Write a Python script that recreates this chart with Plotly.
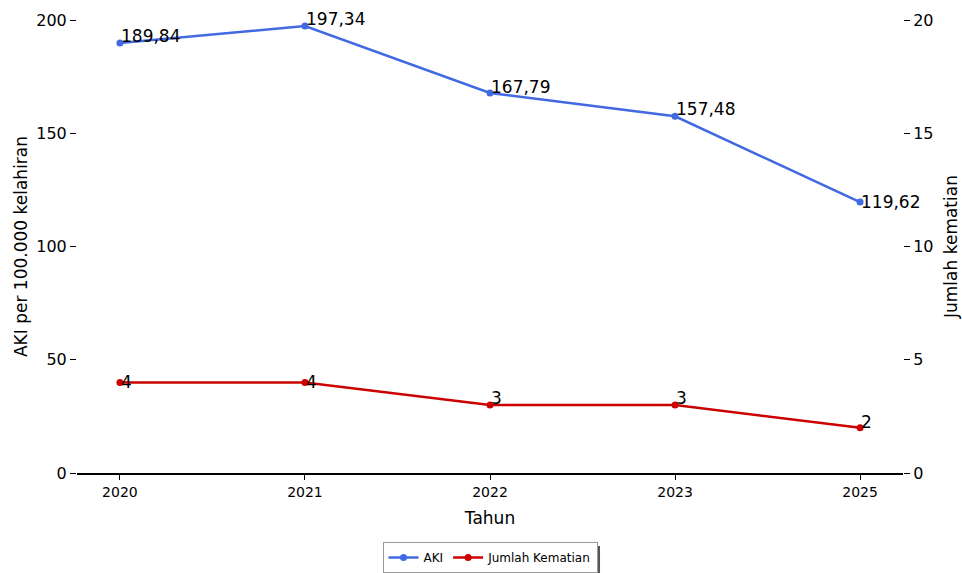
import plotly.graph_objects as go

years = ["2020", "2021", "2022", "2023", "2025"]
aki = [189.84, 197.34, 167.79, 157.48, 119.62]
aki_labels = ["189,84", "197,34", "167,79", "157,48", "119,62"]
deaths = [4, 4, 3, 3, 2]
death_labels = ["4", "4", "3", "3", "2"]
aki_label_lift = [7, 7, 6, 7, 0]
death_label_lift = [0, 0, 7, 7, 6]

FONT = "DejaVu Sans, Verdana, sans-serif"
BLUE = "#4169E1"
RED = "#CC0000"

fig = go.Figure()
fig.add_trace(go.Scatter(
    x=years, y=aki, name="AKI", mode="lines+markers",
    line=dict(color=BLUE, width=2.5), marker=dict(size=7, color=BLUE),
    cliponaxis=False, yaxis="y"))
fig.add_trace(go.Scatter(
    x=years, y=deaths, name="Jumlah Kematian", mode="lines+markers",
    line=dict(color=RED, width=2.5), marker=dict(size=7, color=RED),
    cliponaxis=False, yaxis="y2"))

for i, (yv, t, s) in enumerate(zip(aki, aki_labels, aki_label_lift)):
    fig.add_annotation(x=i, y=yv, xref="x", yref="y", text=t, showarrow=False,
                       xanchor="left", yanchor="middle", xshift=-1, yshift=s,
                       font=dict(family=FONT, size=17, color="black"))
for i, (yv, t, s) in enumerate(zip(deaths, death_labels, death_label_lift)):
    fig.add_annotation(x=i, y=yv, xref="x", yref="y2", text=t, showarrow=False,
                       xanchor="left", yanchor="middle", xshift=-1, yshift=s,
                       font=dict(family=FONT, size=17, color="black"))

# legend drop shadow
fig.add_shape(type="rect", xref="paper", yref="paper",
              x0=0.3741, x1=0.6332, y0=-0.2274, y1=-0.1611,
              fillcolor="#555555", line=dict(width=0), layer="above")

fig.update_layout(
    width=962, height=573,
    margin=dict(l=77, r=59, t=20, b=100),
    paper_bgcolor="white", plot_bgcolor="white",
    font=dict(family=FONT, color="black"),
    xaxis=dict(type="category", range=[-0.232, 4.232], automargin=False,
               showline=True, linecolor="black", linewidth=1.5,
               ticks="outside", ticklen=5, tickcolor="black",
               showgrid=False, zeroline=False,
               tickfont=dict(size=14),
               title=dict(text="Tahun", font=dict(size=17), standoff=14)),
    yaxis=dict(range=[0, 200], tickvals=[0, 50, 100, 150, 200], automargin=False,
               showline=False, showgrid=False, zeroline=False,
               ticks="outside", ticklen=6, tickcolor="black",
               tickfont=dict(size=16),
               title=dict(text="AKI per 100.000 kelahiran", font=dict(size=17), standoff=4)),
    yaxis2=dict(range=[0, 20], tickvals=[0, 5, 10, 15, 20], overlaying="y", side="right",
                automargin=False,
                showline=False, showgrid=False, zeroline=False,
                ticks="outside", ticklen=6, tickcolor="black",
                tickfont=dict(size=16),
                title=dict(text="Jumlah kematian", font=dict(size=17), standoff=12)),
    legend=dict(orientation="h", xref="paper", x=0.5, xanchor="center",
                yref="container", y=0.0, yanchor="bottom",
                bordercolor="#999999", borderwidth=1, bgcolor="white",
                font=dict(size=12)),
    showlegend=True,
)
fig.write_html("out.html", config={"displayModeBar": False},
               post_script="document.body.style.margin='0';")
